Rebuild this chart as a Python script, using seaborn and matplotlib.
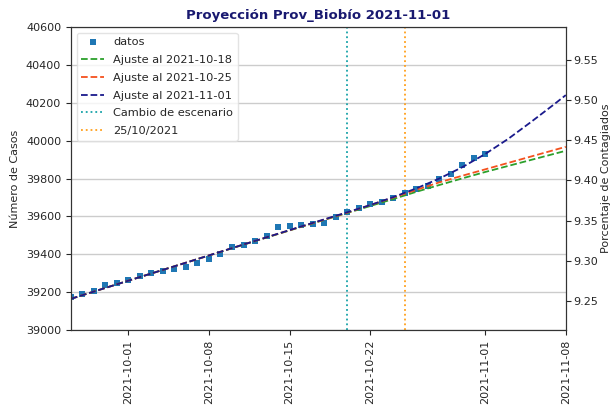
import matplotlib
matplotlib.use("Agg")
import matplotlib.pyplot as plt
import matplotlib.dates as mdates
import numpy as np
import pandas as pd
import seaborn as sns

# ---------------- data ----------------
fechas_datos = pd.date_range("2021-09-26", "2021-11-01", freq="D")
casos = [39173, 39188, 39207, 39238, 39247, 39264, 39285, 39303, 39311, 39324,
         39334, 39352, 39373, 39400, 39437, 39449, 39471, 39496, 39542, 39549,
         39556, 39558, 39563, 39595, 39622, 39643, 39665, 39677, 39695, 39725,
         39743, 39762, 39796, 39822, 39871, 39907, 39929]

fechas_ajuste = pd.to_datetime([
    "2021-09-26", "2021-10-01", "2021-10-06", "2021-10-11", "2021-10-16",
    "2021-10-20", "2021-10-22", "2021-10-24", "2021-10-26", "2021-10-28",
    "2021-10-30", "2021-11-01", "2021-11-03", "2021-11-05", "2021-11-07",
    "2021-11-08"])
ajuste_1018 = [39165, 39261, 39356, 39451, 39545, 39618, 39655, 39692, 39730,
               39766, 39801, 39835, 39867, 39899, 39931, 39947]
ajuste_1025 = [39165, 39261, 39356, 39452, 39546, 39620, 39660, 39700, 39740,
               39780, 39815, 39849, 39883, 39917, 39951, 39968]
ajuste_1101 = [39165, 39261, 39356, 39452, 39547, 39622, 39660, 39702, 39748,
               39800, 39860, 39930, 40010, 40100, 40193, 40241]

cambio_escenario = pd.Timestamp("2021-10-20")
fecha_250 = pd.Timestamp("2021-10-25")
poblacion = 423300

x_ticks = pd.to_datetime(["2021-10-01", "2021-10-08", "2021-10-15",
                          "2021-10-22", "2021-11-01", "2021-11-08"])
y_ticks = [39000, 39200, 39400, 39600, 39800, 40000, 40200, 40400, 40600]
y2_ticks = [9.25, 9.30, 9.35, 9.40, 9.45, 9.50, 9.55]

titulo = "Proyección Prov_Biobío 2021-11-01"

# ---------------- plot ----------------
sns.set_style("ticks")
plt.rcParams["font.family"] = ["DejaVu Sans"]
plt.rcParams["font.size"] = 8

fig = plt.figure(figsize=(6.11, 4.05), dpi=100)
ax = fig.add_axes([0.116, 0.185, 0.810, 0.748])

df_d = pd.DataFrame({"fecha": fechas_datos, "casos": casos})
df_a = pd.DataFrame({"fecha": fechas_ajuste, "a1": ajuste_1018,
                     "a2": ajuste_1025, "a3": ajuste_1101})

sns.scatterplot(data=df_d, x="fecha", y="casos", ax=ax, marker="s", s=22,
                color="#1f77b4", linewidth=0, label="datos", zorder=3)
sns.lineplot(data=df_a, x="fecha", y="a1", ax=ax, color="#2ca02c",
             linestyle="--", linewidth=1.3, label="Ajuste al 2021-10-18", zorder=4)
sns.lineplot(data=df_a, x="fecha", y="a2", ax=ax, color="#f4511e",
             linestyle="--", linewidth=1.3, label="Ajuste al 2021-10-25", zorder=4)
sns.lineplot(data=df_a, x="fecha", y="a3", ax=ax, color="#1a1a8c",
             linestyle="--", linewidth=1.3, label="Ajuste al 2021-11-01", zorder=5)
ax.axvline(cambio_escenario, color="#17a2a8", linestyle=":", linewidth=1.3,
           label="Cambio de escenario")
ax.axvline(fecha_250, color="#ff9f1a", linestyle=":", linewidth=1.3,
           label="25/10/2021")

ax.set_xlim(pd.Timestamp("2021-09-26"), pd.Timestamp("2021-11-08"))
ax.set_ylim(39000, 40600)
ax.set_xticks(x_ticks)
ax.xaxis.set_major_formatter(mdates.DateFormatter("%Y-%m-%d"))
ax.set_yticks(y_ticks)
ax.tick_params(axis="x", rotation=90, labelsize=8)
ax.tick_params(axis="y", labelsize=8)
ax.yaxis.grid(True, color="#cccccc", linewidth=1.0)
ax.set_axisbelow(True)
ax.set_xlabel("")
ax.set_ylabel("Número de Casos", fontsize=8)
ax.set_title(titulo, fontsize=9.5, fontweight="bold", color="#191970")

for sp in ax.spines.values():
    sp.set_color("#333333")

ax.legend(loc="upper left", fontsize=8.2, frameon=True, framealpha=0.8,
          edgecolor="#dddddd", fancybox=True, labelspacing=0.68)

ax2 = ax.twinx()
ax2.set_ylim(39000 / poblacion * 100, 40600 / poblacion * 100)
ax2.set_yticks(y2_ticks)
ax2.set_yticklabels([f"{v:.2f}" for v in y2_ticks])
ax2.tick_params(axis="y", labelsize=8, pad=2)
ax2.set_ylabel("Porcentaje de Contagiados", fontsize=8, labelpad=2)
for sp in ax2.spines.values():
    sp.set_color("#333333")

fig.savefig("out.png", dpi=100)
